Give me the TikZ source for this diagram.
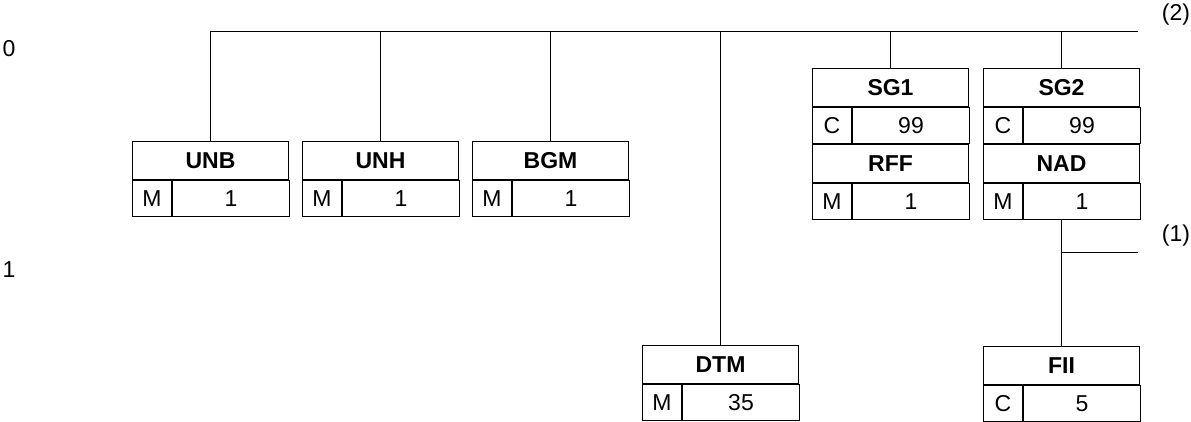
\documentclass[tikz,border=0pt]{standalone}
\usepackage{fontspec}
\setmainfont{Liberation Sans}
\begin{document}
\begin{tikzpicture}[x=1pt,y=-1pt,line width=1pt,
  hdr/.style={draw, minimum width=156, minimum height=38, inner sep=0pt, font=\fontsize{23}{26}\selectfont\bfseries},
  cellA/.style={draw, minimum width=39, minimum height=36, inner sep=0pt, font=\fontsize{23}{26}\selectfont},
  cellB/.style={draw, minimum width=117, minimum height=36, inner sep=0pt, font=\fontsize{23}{26}\selectfont},
  lbl/.style={inner sep=0pt, font=\fontsize{23}{26}\selectfont}]
\useasboundingbox (0,0) rectangle (1191,421);
\newcommand\segbox[6]{%
  \node[hdr, anchor=north west] (#1) at (#2) {#4};
  \node[cellA, anchor=north west] (#1s) at (#1.south west) {#5};
  \node[cellB, anchor=north west] (#1r) at (#1s.north east) {#6};
}
\segbox{unb}{132,141}{}{UNB}{M}{1}
\segbox{unh}{302,141}{}{UNH}{M}{1}
\segbox{bgm}{472,141}{}{BGM}{M}{1}
\segbox{dtm}{642,345}{}{DTM}{M}{35}
\segbox{sgone}{812,68}{}{SG1}{C}{99}
\segbox{rff}{sgones.south west}{}{RFF}{M}{1}
\segbox{sgtwo}{983,68}{}{SG2}{C}{99}
\segbox{nad}{sgtwos.south west}{}{NAD}{M}{1}
\segbox{fii}{983,346}{}{FII}{C}{5}
% connectors
\coordinate (tl) at (210,31);
\coordinate (tr) at (1138,31);
\coordinate (br) at (1138,252);
\draw (tl) -- (tr);
\draw (unb.north) -- (unb.north |- tl);
\draw (unh.north) -- (unh.north |- tl);
\draw (bgm.north) -- (bgm.north |- tl);
\draw (dtm.north) -- (dtm.north |- tl);
\draw (sgone.north) -- (sgone.north |- tl);
\draw (sgtwo.north) -- (sgtwo.north |- tl);
\draw (nad.center |- nads.south) -- (fii.north);
\draw (fii.north |- br) -- (br);
% labels
\node[lbl] (l2) at (1176,15) {(2)};
\node[lbl] (l1) at (1176,236) {(1)};
\node[lbl] (lv0) at (9,48.5) {0};
\node[lbl] (lv1) at (9,269.5) {1};
\end{tikzpicture}
\end{document}
